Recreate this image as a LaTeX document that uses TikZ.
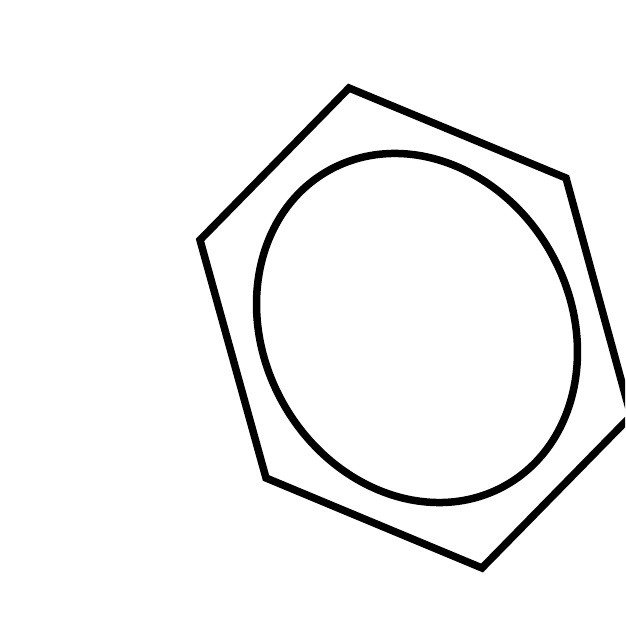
\documentclass[tikz,border=0pt]{standalone}
\begin{document}
\begin{tikzpicture}[x=1pt,y=1pt,
  ring/.style={draw=black,line width=7.5pt,line join=miter}]
\useasboundingbox (0,0) rectangle (625,643);
\clip (0,0) rectangle (625,643);
\fill[white] (0,0) rectangle (625,643);
\coordinate (top) at (349,555);
\coordinate (tr) at (566,465);
\coordinate (r) at (631,227);
\coordinate (b) at (482,75);
\coordinate (bl) at (266,165);
\coordinate (l) at (200,403);
\coordinate (c) at (417,315);
\draw[ring] (top) -- (tr) -- (r) -- (b) -- (bl) -- (l) -- cycle;
\draw[ring] (c) ellipse[x radius=153.6, y radius=180.6, rotate=29.3];
\end{tikzpicture}
\end{document}
